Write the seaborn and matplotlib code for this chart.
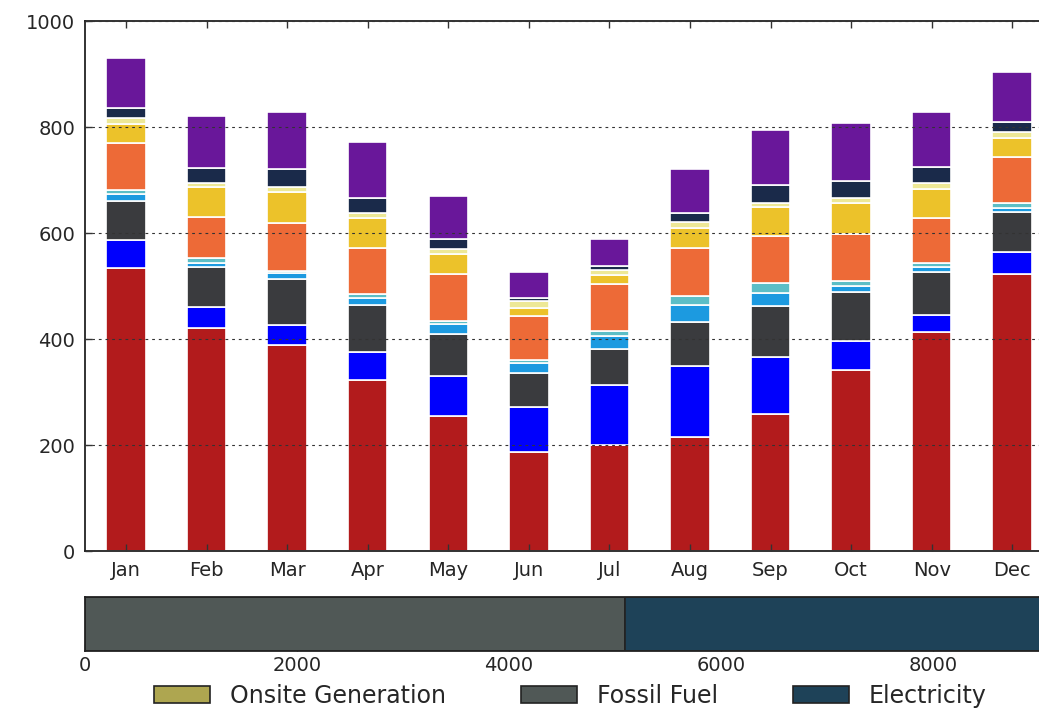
import matplotlib
matplotlib.use("Agg")
import matplotlib.pyplot as plt
from matplotlib.patches import Patch
import pandas as pd
import seaborn as sns

months = ["Jan", "Feb", "Mar", "Apr", "May", "Jun",
          "Jul", "Aug", "Sep", "Oct", "Nov", "Dec"]

# Monthly end-use energy, listed from the bottom of each stack upwards
heating        = [534, 420, 389, 322, 255, 186, 200, 215, 258, 342, 413, 522]
cooling        = [53, 40, 37, 54, 76, 85, 113, 134, 109, 54, 32, 43]
lighting       = [73, 75, 88, 88, 78, 64, 69, 84, 95, 93, 82, 75]
fans           = [13, 9, 11, 14, 19, 20, 24, 31, 24, 11, 8, 8]
pumps          = [8, 9, 4, 7, 6, 5, 10, 18, 20, 10, 8, 8]
equipment      = [88, 78, 89, 86, 88, 83, 88, 89, 88, 88, 85, 88]
water_systems  = [37, 55, 60, 57, 38, 16, 16, 39, 56, 59, 56, 36]
heat_rejection = [11, 9, 8, 10, 10, 13, 11, 10, 7, 10, 10, 10]
humidification = [19, 27, 35, 29, 19, 6, 6, 17, 34, 32, 31, 19]
refrigeration  = [95, 99, 107, 105, 81, 49, 52, 84, 103, 108, 104, 94]

end_uses = ["heating", "cooling", "lighting", "fans", "pumps", "equipment",
            "water_systems", "heat_rejection", "humidification", "refrigeration"]
end_use_values = [heating, cooling, lighting, fans, pumps, equipment,
                  water_systems, heat_rejection, humidification, refrigeration]
end_use_colors = ["#b21b1c", "#0000fd", "#3a3b3e", "#1c9ae0", "#5cbec6",
                  "#ed6a37", "#ecc22a", "#ede896", "#1a2a4a", "#69179a"]

# Annual totals by source
sources = ["Onsite Generation", "Fossil Fuel", "Electricity"]
source_totals = [0, 5094, 4096]
source_colors = ["#aea650", "#505856", "#1e4258"]

sns.set_style("ticks")
plt.rcParams["font.family"] = ["DejaVu Sans"]
plt.rcParams["xtick.direction"] = "in"
plt.rcParams["ytick.direction"] = "in"

long = pd.DataFrame({
    "month": [m for _ in end_uses for m in months],
    "end_use": [e for e in end_uses for _ in months],
    "energy": [v for vals in end_use_values for v in vals],
})

fig = plt.figure(figsize=(10.39, 7.10), dpi=100)
ax = fig.add_axes([0.0818, 0.2239, 0.9374, 0.7465])
ax_tot = fig.add_axes([0.0818, 0.0831, 0.9374, 0.0761])

# seaborn stacks the last hue level at the bottom
stack_order = end_uses[::-1]
palette = dict(zip(end_uses, end_use_colors))
sns.histplot(data=long, x="month", weights="energy", hue="end_use",
             hue_order=stack_order, palette=palette, multiple="stack",
             discrete=True, shrink=0.49, edgecolor="white", linewidth=1.2,
             alpha=1, legend=False, ax=ax)

ax.set_xlim(-0.509, 11.58)
ax.set_ylim(0, 1000)
ax.set_xticks(range(len(months)))
ax.set_xticklabels(months)
ax.set_yticks([0, 200, 400, 600, 800, 1000])
ax.set_xlabel("")
ax.set_ylabel("")
ax.tick_params(axis="both", labelsize=14, length=5, width=1, color="#333333",
               top=True, right=True, pad=7)
ax.yaxis.grid(True, color="#333333", linestyle=(0, (2.5, 3.5)), linewidth=0.8)
ax.set_axisbelow(False)
for s in ax.spines.values():
    s.set_linewidth(1.3)
    s.set_color("#222222")

# Annual total bar split by source
left = 0
for name, val, col in zip(sources, source_totals, source_colors):
    ax_tot.barh(0, val, left=left, height=1.0, color=col,
                edgecolor="#222222", linewidth=1.2)
    left += val
ax_tot.set_xlim(0, sum(source_totals))
ax_tot.set_ylim(-0.5, 0.5)
ax_tot.set_yticks([])
ax_tot.set_xticks([0, 2000, 4000, 6000, 8000])
ax_tot.tick_params(axis="x", labelsize=14, length=5, width=1, color="#222222",
                   top=True, pad=3.5)
for s in ax_tot.spines.values():
    s.set_linewidth(1.3)
    s.set_color("#222222")

handles = [Patch(facecolor=c, edgecolor="#222222", linewidth=1.2)
           for c in source_colors]
fig.legend(handles, sources, loc="center", bbox_to_anchor=(0.549, 0.0197),
           ncol=3, frameon=False, fontsize=17, handlelength=2.35,
           handleheight=0.72, handletextpad=0.85, columnspacing=3.2)

fig.savefig("out.png", dpi=100)
